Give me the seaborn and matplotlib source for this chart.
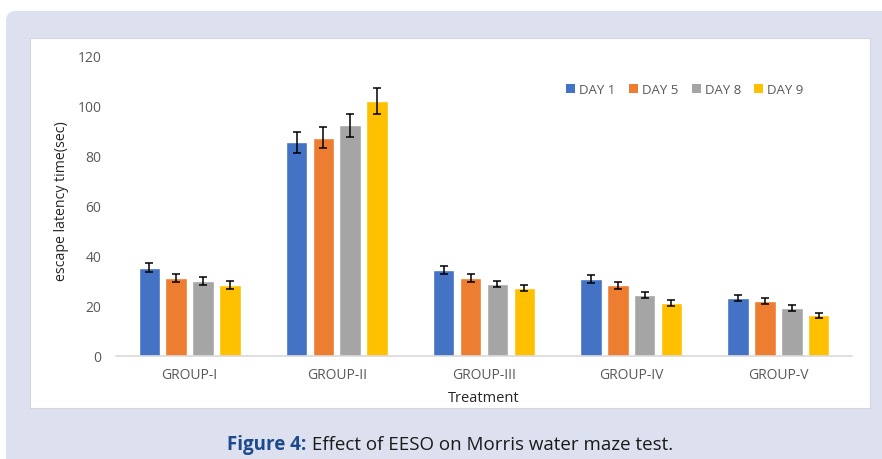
import pandas as pd
import seaborn as sns
import matplotlib.pyplot as plt
import matplotlib.patches as mpatches
import matplotlib.transforms as mtransforms

# chart values
groups = ["GROUP-I", "GROUP-II", "GROUP-III", "GROUP-IV", "GROUP-V"]
days = ["DAY 1", "DAY 5", "DAY 8", "DAY 9"]
day1 = [35.3, 85.5, 34.4, 30.9, 23.2]
day5 = [31.2, 87.4, 31.2, 28.4, 22.1]
day8 = [29.9, 92.3, 28.8, 24.4, 19.2]
day9 = [28.4, 102.0, 27.3, 21.2, 16.4]
sd1 = [1.8, 4.3, 1.6, 1.5, 1.3]
sd5 = [1.7, 4.3, 1.5, 1.4, 1.3]
sd8 = [1.6, 4.6, 1.2, 1.3, 1.1]
sd9 = [1.6, 5.1, 1.3, 1.1, 1.0]
colors = ["#4472C4", "#ED7D31", "#A5A5A5", "#FFC000"]

means = [day1, day5, day8, day9]
sds = [sd1, sd5, sd8, sd9]
df = pd.DataFrame({
    "Treatment": groups * 4,
    "Day": [d for d in days for _ in groups],
    "Time": [v for m in means for v in m],
})

sns.set_theme(style="white")
plt.rcParams["font.family"] = ["Open Sans", "DejaVu Sans"]

fig = plt.figure(figsize=(8.82, 4.6), dpi=100)
fig.patch.set_facecolor("white")

# lavender frame and white panel (pixel coordinates), kept behind the axes
frame = mpatches.FancyBboxPatch((6, -30), 900, 478,
                                boxstyle="round,pad=0,rounding_size=10",
                                facecolor="#dde0ee", edgecolor="none",
                                transform=mtransforms.IdentityTransform(),
                                zorder=-3)
fig.add_artist(frame)
panel = mpatches.Rectangle((30, 51), 840, 370, facecolor="white",
                           edgecolor="#d4d6de", linewidth=0.8,
                           transform=mtransforms.IdentityTransform(),
                           zorder=-2)
fig.add_artist(panel)

ax = fig.add_axes([116 / 882, 103 / 460, 736 / 882, 300 / 460])
ax.set_facecolor("none")

sns.barplot(data=df, x="Treatment", y="Time", hue="Day", order=groups,
            hue_order=days, palette=colors, width=0.73, gap=0.2,
            errorbar=None, saturation=1, ax=ax, legend=False)

# error bars on top of each bar
for cont, sd in zip(ax.containers, sds):
    xs = [b.get_x() + b.get_width() / 2 for b in cont]
    ys = [b.get_height() for b in cont]
    ax.errorbar(xs, ys, yerr=sd, fmt="none", ecolor="black",
                elinewidth=1.1, capsize=3, capthick=1.1)

ax.set_xlim(-0.5, 4.5)
ax.set_ylim(0, 120)
ax.set_yticks(range(0, 121, 20))
for s in ["left", "right", "top"]:
    ax.spines[s].set_visible(False)
ax.spines["bottom"].set_color("#d9d9d9")
ax.spines["bottom"].set_linewidth(1.2)
ax.tick_params(axis="both", length=0, colors="#595959", labelsize=10)
ax.tick_params(axis="y", pad=10.5)
ax.tick_params(axis="x", pad=8)

ax.set_xlabel("Treatment", fontsize=10.5, color="#262626")
ax.set_ylabel("escape latency time(sec)", fontsize=10.2, color="#262626")
ax.xaxis.set_label_coords(0.5, -0.112)
ax.yaxis.set_label_coords(-0.064, 0.52)

handles = [mpatches.Patch(facecolor=c, edgecolor="none") for c in colors]
ax.legend(handles, days, loc="center", bbox_to_anchor=(0.773, 0.887),
          ncol=4, frameon=False, fontsize=9.5, labelcolor="#595959",
          handlelength=0.7, handleheight=0.7, handletextpad=0.3,
          columnspacing=1.0)

# caption below the panel
t1 = fig.text(0, 10 / 460, "Figure 4:", fontsize=13.5, fontweight="bold",
              color="#1b4b8c", va="baseline")
t2 = fig.text(0, 10 / 460, " Effect of EESO on Morris water maze test.",
              fontsize=13.5, color="#1a1a1a", va="baseline")
fig.canvas.draw()
r = fig.canvas.get_renderer()
w1 = t1.get_window_extent(r).width
w2 = t2.get_window_extent(r).width
x0 = 450 - (w1 + w2) / 2
t1.set_x(x0 / 882)
t2.set_x((x0 + w1) / 882)

fig.savefig("out.png", dpi=100)
